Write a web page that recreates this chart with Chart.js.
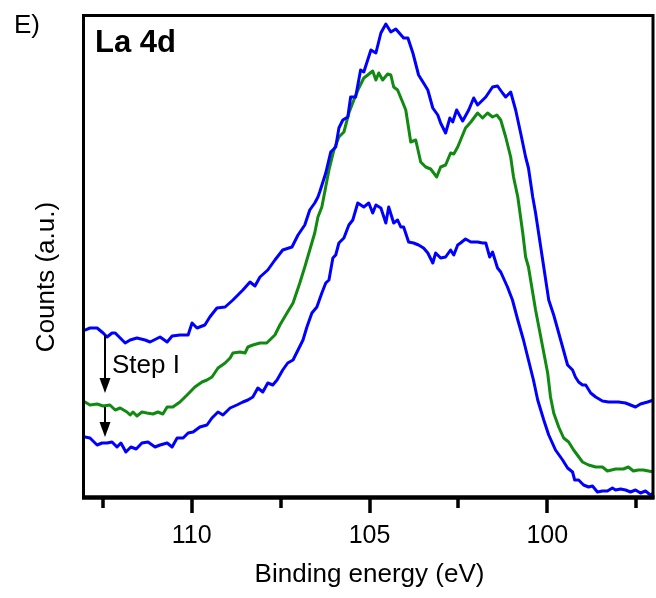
<!DOCTYPE html>
<html>
<head>
<meta charset="utf-8">
<script src="https://cdn.jsdelivr.net/npm/chart.js@4.4.1/dist/chart.umd.min.js"></script>
<style>
  html, body { margin: 0; padding: 0; background: #ffffff; }
  #wrap { width: 656px; height: 598px; }
</style>
</head>
<body>
<div id="wrap"><canvas id="c" width="656" height="598"></canvas></div>
<script>
// ---- Data (binding energy in eV, counts in arbitrary units) ----
const upperBlueEnergy = [113.00,112.86,112.66,112.49,112.38,112.24,112.15,112.01,111.87,111.73,111.54,111.31,111.17,110.89,110.69,110.55,110.33,110.10,109.99,109.85,109.63,109.49,109.29,109.06,108.84,108.56,108.36,108.22,108.08,107.86,107.66,107.44,107.18,107.01,106.82,106.68,106.54,106.45,106.40,106.23,106.09,105.95,105.86,105.75,105.61,105.53,105.39,105.25,105.16,104.96,104.82,104.68,104.54,104.40,104.26,104.04,103.92,103.78,103.62,103.48,103.36,103.22,103.08,103.00,102.86,102.74,102.66,102.55,102.38,102.21,102.07,101.96,101.73,101.54,101.40,101.26,101.17,101.03,100.89,100.75,100.61,100.53,100.41,100.33,100.13,99.96,99.82,99.57,99.43,99.29,99.21,99.12,99.01,98.92,98.78,98.64,98.45,98.28,98.00,97.80,97.52,97.38,97.18,97.01];
const upperBlueCounts = [168,170,170,165,161,165,165,160,155,158,160,158,156,161,156,162,163,163,175,170,173,181,190,191,198,208,216,212,221,228,238,248,251,263,273,288,295,301,306,325,346,351,370,378,381,401,401,428,426,448,445,465,474,466,469,460,460,445,423,415,408,390,383,375,365,380,376,388,377,388,400,393,401,411,412,405,401,406,388,365,341,330,301,285,238,198,183,151,133,128,121,116,113,113,105,101,97,96,96,95,91,94,96,98];

const greenEnergy = [113.00,112.86,112.66,112.49,112.30,112.15,112.01,111.82,111.73,111.65,111.54,111.40,111.26,111.09,110.95,110.81,110.69,110.53,110.33,110.13,109.91,109.71,109.57,109.43,109.26,109.06,108.92,108.84,108.64,108.50,108.42,108.28,108.08,107.89,107.66,107.52,107.32,107.15,106.96,106.82,106.68,106.54,106.45,106.34,106.14,106.00,105.86,105.72,105.58,105.44,105.30,105.16,105.05,104.91,104.82,104.74,104.63,104.49,104.40,104.32,104.21,104.07,103.98,103.84,103.70,103.56,103.42,103.28,103.11,103.00,102.86,102.72,102.63,102.52,102.30,102.15,101.96,101.82,101.68,101.54,101.42,101.31,101.17,101.03,100.95,100.83,100.69,100.61,100.53,100.33,100.13,99.99,99.91,99.82,99.68,99.54,99.40,99.26,99.01,98.84,98.64,98.45,98.31,98.08,97.86,97.72,97.58,97.44,97.30,97.01];
const greenCounts = [96,93,94,92,93,88,90,86,83,86,82,86,85,84,86,84,91,91,96,103,111,116,118,121,130,135,140,145,146,145,151,153,155,155,163,173,185,195,215,231,248,265,281,291,328,348,361,366,385,398,410,420,423,427,418,425,418,424,423,411,408,396,388,356,358,336,331,329,321,331,333,345,344,351,370,376,385,380,385,381,383,378,361,341,321,301,265,241,231,188,151,125,101,85,71,60,56,48,36,33,31,31,27,29,29,31,27,28,28,26];

const lowerBlueEnergy = [113.00,112.86,112.66,112.52,112.38,112.24,112.10,111.99,111.85,111.71,111.56,111.40,111.23,111.03,110.89,110.69,110.55,110.41,110.24,110.10,109.96,109.77,109.57,109.43,109.26,109.12,108.92,108.73,108.56,108.42,108.28,108.14,108.00,107.86,107.72,107.60,107.44,107.30,107.15,107.01,106.87,106.76,106.62,106.48,106.34,106.23,106.14,106.03,105.95,105.86,105.72,105.58,105.47,105.33,105.16,105.02,104.91,104.82,104.68,104.54,104.46,104.32,104.21,104.12,104.04,103.90,103.76,103.62,103.48,103.36,103.22,103.14,103.00,102.86,102.72,102.63,102.52,102.44,102.30,102.15,101.96,101.82,101.73,101.62,101.54,101.40,101.31,101.12,100.98,100.83,100.67,100.53,100.39,100.27,100.10,99.96,99.77,99.57,99.43,99.29,99.23,99.12,98.98,98.84,98.73,98.59,98.45,98.31,98.17,98.08,97.94,97.80,97.66,97.52,97.38,97.24,97.10,97.01];
const lowerBlueCounts = [61,60,53,55,55,56,51,55,46,51,49,55,56,51,53,55,51,60,60,65,66,71,73,80,86,83,90,93,96,98,101,110,106,115,113,118,128,135,138,148,158,171,185,191,205,215,218,240,243,255,260,273,278,295,291,295,285,293,290,275,291,275,278,271,271,256,255,253,250,245,235,245,240,241,248,243,253,255,259,256,256,255,255,241,246,230,226,211,198,178,158,138,118,98,78,63,48,38,30,26,18,18,13,11,12,6,7,7,10,8,9,8,6,8,5,7,3,5];

// axis ticks
const majorTicks = [110, 105, 100];
const minorTicks = [112.5, 107.5, 102.5, 97.5];

// annotations: [energy, countFrom, countTo]
const stepArrows = [[112.45, 163, 105], [112.45, 91, 61]];
const stepLabel = { text: 'Step I', energy: 112.24, counts: 125 };
const panelLabel = 'E)';
const elementLabel = 'La 4d';
const xTitle = 'Binding energy (eV)';
const yTitle = 'Counts (a.u.)';

const FONT = "'Liberation Sans', Arial, sans-serif";
const BLUE = '#0000ff';
const GREEN = '#118a11';

function pts(es, cs) { return es.map((e, i) => ({ x: e, y: cs[i] })); }

const decor = {
  id: 'decor',
  beforeDraw(chart) {
    const ctx = chart.ctx;
    ctx.save();
    ctx.fillStyle = '#ffffff';
    ctx.fillRect(0, 0, chart.width, chart.height);
    ctx.restore();
  },
  afterDatasetsDraw(chart) {
    const ctx = chart.ctx;
    const a = chart.chartArea;
    const xs = chart.scales.x, ys = chart.scales.y;
    ctx.save();
    // frame
    ctx.strokeStyle = '#000';
    ctx.lineWidth = 3;
    ctx.strokeRect(a.left - 1.5, a.top - 1.5, (a.right - 1) - (a.left - 1.5), (a.bottom - 0.5) - (a.top - 1.5));
    ctx.lineWidth = 4.5;
    ctx.beginPath();
    ctx.moveTo(a.left - 3, a.bottom - 0.5);
    ctx.lineTo(a.right + 0.5, a.bottom - 0.5);
    ctx.stroke();
    // tick marks
    majorTicks.forEach(v => {
      const px = Math.round(xs.getPixelForValue(v));
      ctx.lineWidth = 3.5;
      ctx.beginPath(); ctx.moveTo(px, a.bottom); ctx.lineTo(px, a.bottom + 15); ctx.stroke();
    });
    minorTicks.forEach(v => {
      const px = Math.round(xs.getPixelForValue(v));
      ctx.lineWidth = 3.5;
      ctx.beginPath(); ctx.moveTo(px, a.bottom); ctx.lineTo(px, a.bottom + 10); ctx.stroke();
    });
    // arrows
    ctx.lineWidth = 2;
    ctx.fillStyle = '#000';
    stepArrows.forEach(([e, c0, c1]) => {
      const x = Math.round(xs.getPixelForValue(e));
      const y0 = ys.getPixelForValue(c0), y1 = ys.getPixelForValue(c1);
      ctx.beginPath(); ctx.moveTo(x, y0); ctx.lineTo(x, y1 - 12); ctx.stroke();
      ctx.beginPath(); ctx.moveTo(x - 5.5, y1 - 15); ctx.lineTo(x + 5.5, y1 - 15); ctx.lineTo(x, y1); ctx.closePath(); ctx.fill();
    });
    // texts
    ctx.fillStyle = '#000';
    ctx.textBaseline = 'alphabetic';
    ctx.textAlign = 'left';
    ctx.font = '26px ' + FONT;
    ctx.fillText(stepLabel.text, xs.getPixelForValue(stepLabel.energy), ys.getPixelForValue(stepLabel.counts));
    ctx.font = 'bold 31px ' + FONT;
    ctx.fillText(elementLabel, a.left + 10, a.top + 35);
    ctx.font = '26px ' + FONT;
    ctx.fillText(panelLabel, 14, 33);
    // y title
    ctx.save();
    ctx.translate(54, 277);
    ctx.rotate(-Math.PI / 2);
    ctx.textAlign = 'center';
    ctx.font = '26px ' + FONT;
    ctx.fillText(yTitle, 0, 0);
    ctx.restore();
    ctx.restore();
  }
};

new Chart(document.getElementById('c'), {
  type: 'line',
  data: {
    datasets: [
      { label: 'upper', data: pts(upperBlueEnergy, upperBlueCounts), borderColor: BLUE, borderWidth: 3 },
      { label: 'middle', data: pts(greenEnergy, greenCounts), borderColor: GREEN, borderWidth: 3 },
      { label: 'lower', data: pts(lowerBlueEnergy, lowerBlueCounts), borderColor: BLUE, borderWidth: 3 }
    ]
  },
  options: {
    responsive: false,
    animation: false,
    devicePixelRatio: 1,
    elements: { point: { radius: 0 }, line: { tension: 0, fill: false, borderJoinStyle: 'round', borderCapStyle: 'round' } },
    layout: { padding: { left: 85, top: 17, right: 2, bottom: 0 } },
    plugins: { legend: { display: false }, tooltip: { enabled: false } },
    scales: {
      x: {
        type: 'linear',
        reverse: true,
        min: 97,
        max: 113,
        afterFit(s) { s.height = 100; },
        afterBuildTicks(s) { s.ticks = majorTicks.map(v => ({ value: v })); },
        grid: { display: false, drawTicks: false },
        border: { display: false },
        ticks: { color: '#000', font: { family: FONT, size: 25 }, padding: 23, maxRotation: 0, autoSkip: false },
        title: { display: true, text: xTitle, color: '#000', font: { family: FONT, size: 26 }, padding: { top: 0, bottom: 8 } }
      },
      y: {
        display: false,
        min: 0,
        max: 481
      }
    }
  },
  plugins: [decor]
});
</script>
</body>
</html>
